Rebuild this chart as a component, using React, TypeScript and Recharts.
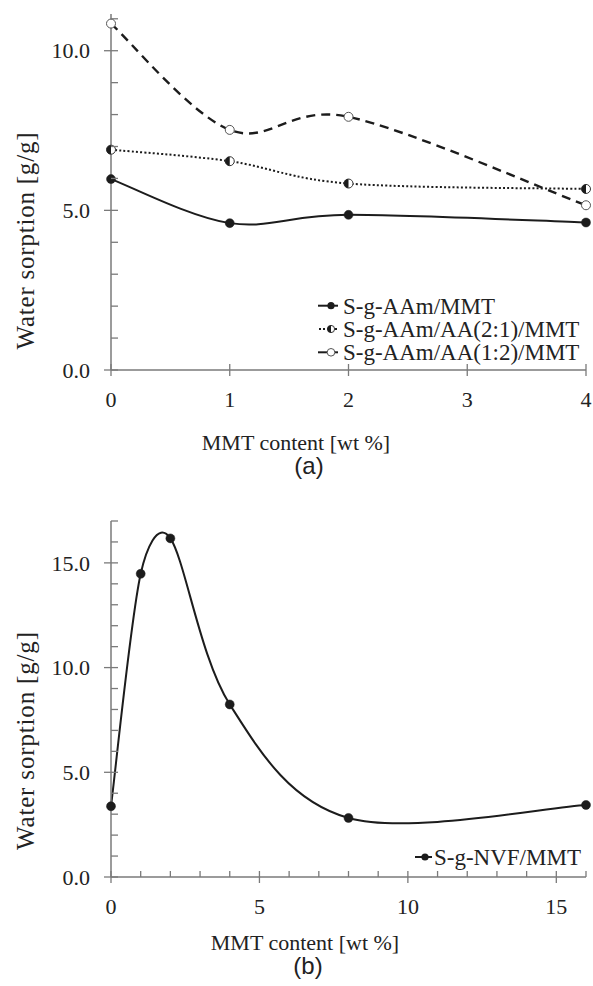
import React from 'react';
import { LineChart, Line, XAxis, YAxis, Legend, Label } from 'recharts';

// ---------- data (a) ----------
const contentA = [0, 1, 2, 4];
const aamMMT = [5.98, 4.6, 4.86, 4.62];
const aam21MMT = [6.9, 6.54, 5.84, 5.67];
const aam12MMT = [10.85, 7.52, 7.93, 5.16];
const xTicksA = [0, 1, 2, 3, 4];
const xMajorA = [0, 1, 2, 3, 4];
const yTicksA = [0, 1, 2, 3, 4, 5, 6, 7, 8, 9, 10, 11];
const yMajorA = [0, 5, 10];
const namesA = ['S-g-AAm/MMT', 'S-g-AAm/AA(2:1)/MMT', 'S-g-AAm/AA(1:2)/MMT'];

// ---------- data (b) ----------
const contentB = [0, 1, 2, 4, 8, 16];
const nvfMMT = [3.38, 14.48, 16.17, 8.24, 2.82, 3.44];
const xTicksB = [0, 1, 2, 3, 4, 5, 6, 7, 8, 9, 10, 11, 12, 13, 14, 15, 16];
const xMajorB = [0, 5, 10, 15];
const yTicksB = [0, 1, 2, 3, 4, 5, 6, 7, 8, 9, 10, 11, 12, 13, 14, 15, 16, 17];
const yMajorB = [0, 5, 10, 15];
const nameB = 'S-g-NVF/MMT';

const rowsA = contentA.map((x, i) => ({ x, a: aamMMT[i], b: aam21MMT[i], c: aam12MMT[i] }));
const rowsB = contentB.map((x, i) => ({ x, v: nvfMMT[i] }));

const SERIF = 'Liberation Serif';
const SANS = 'Liberation Sans';
const AXIS = '#7a7a7a';
const INK = '#1c1c1c';
const TEXT = '#222';
const serifStyle = { fontFamily: SERIF, fontWeight: 400 as const };
const sansStyle = { fontFamily: SANS, fontWeight: 400 as const };

// Excel-style smoothed line curve factory
function excelCurve(context: any) {
  let pts: number[][] = [];
  const dist = (p: number[], q: number[]) => Math.hypot(p[0] - q[0], p[1] - q[1]);
  return {
    areaStart() {},
    areaEnd() {},
    lineStart() {
      pts = [];
    },
    point(x: number, y: number) {
      pts.push([+x, +y]);
    },
    lineEnd() {
      const n = pts.length;
      if (!n) return;
      context.moveTo(pts[0][0], pts[0][1]);
      for (let i = 0; i < n - 1; i++) {
        const p0 = pts[i - 1] || pts[i];
        const p1 = pts[i];
        const p2 = pts[i + 1];
        const p3 = pts[i + 2] || pts[i + 1];
        const d02 = dist(p0, p2);
        const d12 = dist(p1, p2);
        const d13 = dist(p1, p3);
        const f = 1 / 6;
        let f1 = f;
        let f2 = f;
        if (!(d02 / 6 < d12 / 2 && d13 / 6 < d12 / 2)) {
          f1 = d02 / 6 >= d12 / 2 && d02 > 0 ? d12 / d02 / 2 : f;
          f2 = d13 / 6 >= d12 / 2 && d13 > 0 ? d12 / d13 / 2 : f;
        }
        const c1x = p1[0] + (p2[0] - p0[0]) * f1;
        const c1y = p1[1] + (p2[1] - p0[1]) * f1;
        const c2x = p2[0] - (p3[0] - p1[0]) * f2;
        const c2y = p2[1] - (p3[1] - p1[1]) * f2;
        context.bezierCurveTo(c1x, c1y, c2x, c2y, p2[0], p2[1]);
      }
    },
  };
}

const R = 4.5;
const FilledDot = (props: any) => {
  const { cx, cy } = props;
  if (cx == null || cy == null) return <g />;
  return <circle cx={cx} cy={cy} r={R} fill={INK} stroke={INK} strokeWidth={0.5} />;
};
const HalfDot = (props: any) => {
  const { cx, cy } = props;
  if (cx == null || cy == null) return <g />;
  return (
    <g>
      <circle cx={cx} cy={cy} r={R} fill="#fff" stroke="#333" strokeWidth={1} />
      <path d={`M${cx},${cy - R} A${R},${R} 0 0 0 ${cx},${cy + R} Z`} fill={INK} />
    </g>
  );
};
const OpenDot = (props: any) => {
  const { cx, cy } = props;
  if (cx == null || cy == null) return <g />;
  return <circle cx={cx} cy={cy} r={R} fill="#fff" stroke="#555" strokeWidth={1} />;
};

const makeYTick = (majors: number[]) => (props: any) => {
  const { x, y, payload } = props;
  const v = payload.value;
  const major = majors.includes(v);
  return (
    <g>
      <line x1={major ? x - 7 : x} x2={x + 7} y1={y} y2={y} stroke={AXIS} strokeWidth={1.3} />
      {major && (
        <text
          x={x - 21}
          y={y}
          dy="0.35em"
          textAnchor="end"
          fontFamily={SERIF}
          style={serifStyle}
          fontSize={22}
          fill={TEXT}
        >
          {v.toFixed(1)}
        </text>
      )}
    </g>
  );
};

const makeXTick = (majors: number[]) => (props: any) => {
  const { x, y, payload } = props;
  const v = payload.value;
  const major = majors.includes(v);
  return (
    <g>
      <line x1={x} x2={x} y1={y - 6} y2={major ? y + 6 : y} stroke={AXIS} strokeWidth={1.3} />
      {major && (
        <text
          x={x}
          y={y + 29}
          dy="0.35em"
          textAnchor="middle"
          fontFamily={SERIF}
          style={serifStyle}
          fontSize={22}
          fill={TEXT}
        >
          {String(v)}
        </text>
      )}
    </g>
  );
};

const yLabel = (cy: number, len: number) => () => (
  <text
    x={25}
    y={cy}
    transform={`rotate(-90 25 ${cy})`}
    textAnchor="middle"
    dy="0.35em"
    fontFamily={SERIF}
    style={serifStyle}
    fontSize={25}
    fill={TEXT}
    textLength={len}
    lengthAdjust="spacing"
  >
    Water sorption [g/g]
  </text>
);

const xLabel = (tx: number, ty: number, px: number, py: number, panel: string) => () => (
  <g>
    <text x={tx} y={ty} dy="0.35em" textAnchor="middle" fontFamily={SERIF} style={serifStyle} fontSize={22} fill={TEXT}>
      MMT content [wt %]
    </text>
    <text x={px} y={py} dy="0.35em" textAnchor="middle" fontFamily={SANS} style={sansStyle} fontSize={24} fill={TEXT}>
      {panel}
    </text>
  </g>
);

const legendA = () => (
  <svg width={280} height={80} style={{ display: 'block', overflow: 'visible' }}>
    <line x1={8} x2={28} y1={15.7} y2={15.7} stroke={INK} strokeWidth={2} />
    <circle cx={21} cy={15.7} r={3.6} fill={INK} />
    <text x={33} y={15.7} dy="0.35em" fontFamily={SERIF} style={serifStyle} fontSize={23} fill={TEXT}>
      {namesA[0]}
    </text>
    <line x1={9} x2={29} y1={39} y2={39} stroke={INK} strokeWidth={2} strokeDasharray="2 2" />
    <circle cx={21} cy={39} r={3.6} fill="#fff" stroke="#333" strokeWidth={1} />
    <path d={`M21,${39 - 3.6} A3.6,3.6 0 0 0 21,${39 + 3.6} Z`} fill={INK} />
    <text x={33} y={39} dy="0.35em" fontFamily={SERIF} style={serifStyle} fontSize={23} fill={TEXT}>
      {namesA[1]}
    </text>
    <line x1={8} x2={28} y1={62.3} y2={62.3} stroke={INK} strokeWidth={2} />
    <circle cx={21} cy={62.3} r={3.8} fill="#fff" stroke="#555" strokeWidth={1} />
    <text x={33} y={62.3} dy="0.35em" fontFamily={SERIF} style={serifStyle} fontSize={23} fill={TEXT}>
      {namesA[2]}
    </text>
  </svg>
);

const legendB = () => (
  <svg width={190} height={32} style={{ display: 'block', overflow: 'visible' }}>
    <line x1={10} x2={27} y1={16} y2={16} stroke={INK} strokeWidth={2} />
    <circle cx={20} cy={16} r={3.6} fill={INK} />
    <text x={29} y={16} dy="0.35em" fontFamily={SERIF} style={serifStyle} fontSize={23} fill={TEXT}>
      {nameB}
    </text>
  </svg>
);

export default function App() {
  return (
    <div style={{ position: 'absolute', left: 0, top: 0, width: 593, height: 986, background: '#fff', fontFamily: SERIF }}>
      <div style={{ position: 'absolute', left: 0, top: 0 }}>
        <LineChart
          width={593}
          height={496}
          data={rowsA}
          margin={{ top: 14, right: 7, bottom: 0, left: 0 }}
          style={{ fontFamily: SERIF }}
        >
          <XAxis
            dataKey="x"
            type="number"
            domain={[0, 4]}
            ticks={xTicksA}
            interval={0}
            height={126}
            tickSize={0}
            tickMargin={0}
            tick={makeXTick(xMajorA)}
            tickLine={false}
            axisLine={{ stroke: AXIS, strokeWidth: 1.5 }}
          >
            <Label content={xLabel(296, 442, 309, 466, '(a)')} />
          </XAxis>
          <YAxis
            type="number"
            domain={[0, 11.15]}
            ticks={yTicksA}
            interval={0}
            width={111}
            tickSize={0}
            tickMargin={0}
            tick={makeYTick(yMajorA)}
            tickLine={false}
            axisLine={{ stroke: AXIS, strokeWidth: 1.5 }}
          >
            <Label content={yLabel(241, 217)} />
          </YAxis>
          <Legend
            layout="horizontal"
            verticalAlign="middle"
            align="center"
            wrapperStyle={{ position: 'absolute', left: 310, top: 290, width: 280, height: 80 }}
            content={legendA}
          />
          <Line
            dataKey="a"
            name={namesA[0]}
            type={excelCurve as any}
            stroke={INK}
            strokeWidth={2}
            dot={FilledDot}
            activeDot={false}
            isAnimationActive={false}
          />
          <Line
            dataKey="b"
            name={namesA[1]}
            type={excelCurve as any}
            stroke={INK}
            strokeWidth={2}
            strokeDasharray="2 2.2"
            dot={HalfDot}
            activeDot={false}
            isAnimationActive={false}
          />
          <Line
            dataKey="c"
            name={namesA[2]}
            type={excelCurve as any}
            stroke={INK}
            strokeWidth={2.4}
            strokeDasharray="9 6"
            dot={OpenDot}
            activeDot={false}
            isAnimationActive={false}
          />
        </LineChart>
      </div>
      <div style={{ position: 'absolute', left: 0, top: 496 }}>
        <LineChart
          width={593}
          height={490}
          data={rowsB}
          margin={{ top: 25, right: 7, bottom: 0, left: 0 }}
          style={{ fontFamily: SERIF }}
        >
          <XAxis
            dataKey="x"
            type="number"
            domain={[0, 16]}
            ticks={xTicksB}
            interval={0}
            height={109}
            tickSize={0}
            tickMargin={0}
            tick={makeXTick(xMajorB)}
            tickLine={false}
            axisLine={{ stroke: AXIS, strokeWidth: 1.5 }}
          >
            <Label content={xLabel(305, 446, 308, 470, '(b)')} />
          </XAxis>
          <YAxis
            type="number"
            domain={[0, 17]}
            ticks={yTicksB}
            interval={0}
            width={111}
            tickSize={0}
            tickMargin={0}
            tick={makeYTick(yMajorB)}
            tickLine={false}
            axisLine={{ stroke: AXIS, strokeWidth: 1.5 }}
          >
            <Label content={yLabel(245, 218)} />
          </YAxis>
          <Legend
            layout="horizontal"
            verticalAlign="middle"
            align="center"
            wrapperStyle={{ position: 'absolute', left: 405, top: 345, width: 190, height: 32 }}
            content={legendB}
          />
          <Line
            dataKey="v"
            name={nameB}
            type={excelCurve as any}
            stroke={INK}
            strokeWidth={2}
            dot={FilledDot}
            activeDot={false}
            isAnimationActive={false}
          />
        </LineChart>
      </div>
    </div>
  );
}
